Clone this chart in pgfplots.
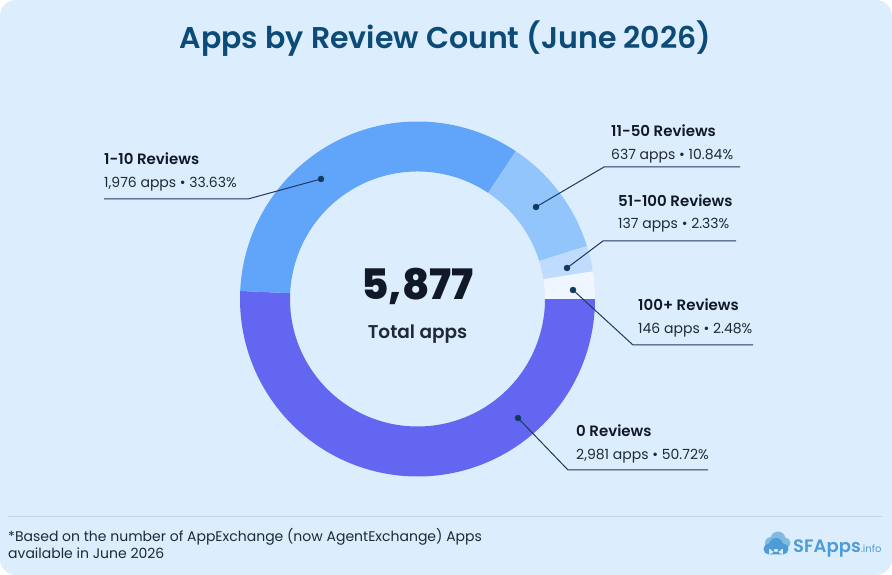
\documentclass[border=0pt]{standalone}
\usepackage{fontspec}
\setmainfont{Poppins}
\IfFontExistsTF{Poppins SemiBold}
  {\newfontfamily\semibold{Poppins SemiBold}}
  {\newcommand\semibold{\bfseries}}
\IfFontExistsTF{Poppins ExtraBold}
  {\newfontfamily\heavy{Poppins ExtraBold}}
  {\newcommand\heavy{\bfseries}}
\usepackage{pgfplots}
\pgfplotsset{compat=1.18}
\usepackage{pgfplotstable}

\definecolor{bg}{HTML}{DCEEFD}
\definecolor{titlec}{HTML}{0C4A77}
\definecolor{segA}{HTML}{6366F1}
\definecolor{segB}{HTML}{60A5FA}
\definecolor{segC}{HTML}{93C5FD}
\definecolor{segD}{HTML}{BFDBFE}
\definecolor{segE}{HTML}{EFF6FF}
\definecolor{headc}{HTML}{111827}
\definecolor{subc}{HTML}{1F2937}
\definecolor{leadc}{HTML}{1E3A5F}
\definecolor{dotc}{HTML}{123A5E}
\definecolor{rulec}{HTML}{BFD5E9}
\definecolor{logoc}{HTML}{4E9CD5}

% Apps per review bucket, clockwise from 3 o'clock
\pgfplotstableread{
count colour
2981  segA
1976  segB
637   segC
137   segD
146   segE
}\reviewdata

\tikzset{
  head/.style={anchor=base west, inner sep=0pt, headc, font=\semibold\fontsize{15}{18}\selectfont},
  sub/.style={anchor=base west, inner sep=0pt, subc, font=\fontsize{14}{17}\selectfont},
}

\begin{document}
\begin{tikzpicture}[x=1pt,y=1pt]
\fill[white] (0,0) rectangle (892,575);
\fill[bg, rounded corners=16pt] (0,0) rectangle (892,575);

\begin{axis}[at={(0,0)}, anchor=south west, x=1pt, y=1pt,
  xmin=0, xmax=892, ymin=0, ymax=575, hide axis, clip=false]

% total of all buckets
\def\total{0}
\pgfplotsforeachungrouped \i in {0,...,4}{%
  \pgfplotstablegetelem{\i}{count}\of\reviewdata
  \pgfmathsetmacro{\total}{\total+\pgfplotsretval}}

\coordinate (ctr) at (axis cs:417.5,276);

% donut ring
\def\angA{0}
\pgfplotsforeachungrouped \i in {0,...,4}{%
  \pgfplotstablegetelem{\i}{count}\of\reviewdata
  \pgfmathsetmacro{\angB}{\angA-360*(\pgfplotsretval/\total)}
  \pgfplotstablegetelem{\i}{colour}\of\reviewdata
  \edef\doseg{\noexpand\fill[\pgfplotsretval]
    ([shift={(\angA:177.5pt)}]ctr) arc[start angle=\angA, end angle=\angB, radius=177.5pt]
    -- ([shift={(\angB:127.5pt)}]ctr) arc[start angle=\angB, end angle=\angA, radius=127.5pt]
    -- cycle;}
  \doseg
  \global\let\angA\angB
}

% leader lines
\addplot[leadc, line width=1pt, mark=none] coordinates {(104,376) (248,376) (321,396)};
\addplot[leadc, line width=1pt, mark=none] coordinates {(740,408) (604,408) (536,368)};
\addplot[leadc, line width=1pt, mark=none] coordinates {(736,334) (603,334) (567,307)};
\addplot[leadc, line width=1pt, mark=none] coordinates {(753,230) (633,230) (573,285)};
\addplot[leadc, line width=1pt, mark=none] coordinates {(708,105) (568,105) (518,157)};
\addplot[only marks, mark=*, mark size=3pt, dotc] coordinates {
  (321,396) (536,368) (567,307) (573,285) (518,157)};

% labels
\node[head] at (axis cs:104,410) {1-10 Reviews};
\node[sub]  at (axis cs:104,387) {1,976 apps • 33.63\%};
\node[head] at (axis cs:611,438) {11-50 Reviews};
\node[sub]  at (axis cs:611,415) {637 apps • 10.84\%};
\node[head] at (axis cs:618,368) {51-100 Reviews};
\node[sub]  at (axis cs:618,346) {137 apps • 2.33\%};
\node[head] at (axis cs:638,264) {100+ Reviews};
\node[sub]  at (axis cs:638,241) {146 apps • 2.48\%};
\node[head] at (axis cs:576,138) {0 Reviews};
\node[sub]  at (axis cs:576,115) {2,981 apps • 50.72\%};

% centre
\node[anchor=base, inner sep=0pt, headc, font=\heavy\fontsize{42}{48}\selectfont] at (axis cs:417.5,275) {5,877};
\node[anchor=base, inner sep=0pt, subc, font=\semibold\fontsize{18.5}{22}\selectfont] at (axis cs:417.5,236) {Total apps};

% title
\node[anchor=base, inner sep=0pt, titlec, font=\semibold\fontsize{30}{34}\selectfont] at (axis cs:445.5,526) {Apps by Review Count (June 2026)};

% footer
\draw[rulec, line width=0.8pt] (axis cs:8,59) -- (axis cs:882,59);
\node[anchor=base west, inner sep=0pt, subc, font=\fontsize{14}{17}\selectfont] at (axis cs:8,33) {*Based on the number of AppExchange (now AgentExchange) Apps};
\node[anchor=base west, inner sep=0pt, subc, font=\fontsize{14}{17}\selectfont] at (axis cs:8,16) {available in June 2026};
\end{axis}

% logo
\begin{scope}[shift={(778,30)}]
  \fill[logoc!70!white] (-7,2) circle (6) (0,6) circle (7.5) (7,2) circle (5.5);
  \fill[logoc] (-9,-4) circle (5.5) (-2,0) circle (7) (5,-4) circle (5.5) (-9,-9.5) rectangle (5,-4);
\end{scope}
\node[anchor=base west, logoc, inner sep=0pt, font=\semibold\fontsize{18}{22}\selectfont] at (793,22) {SFApps{\normalfont\fontsize{10}{12}\selectfont.info}};
\end{tikzpicture}
\end{document}
